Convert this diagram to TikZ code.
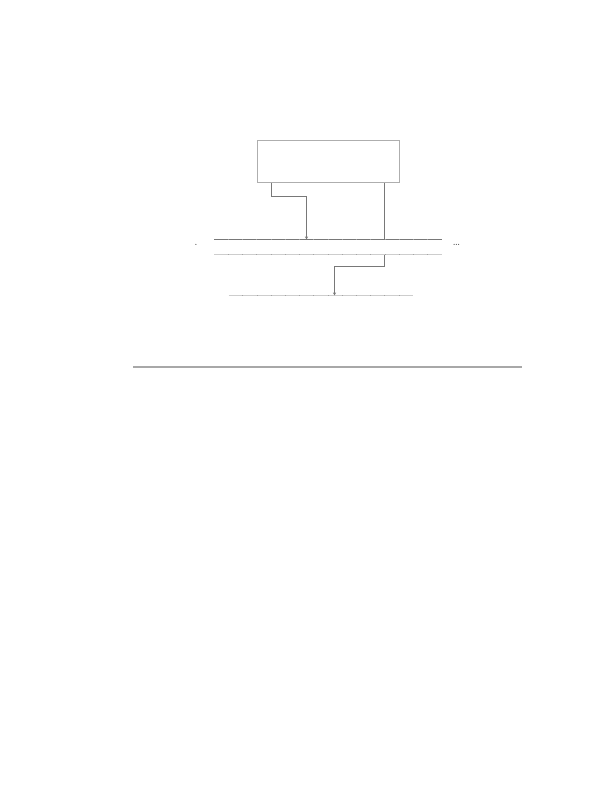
\documentclass[tikz,border=0pt]{standalone}
\usetikzlibrary{arrows.meta,positioning}
\definecolor{ink}{RGB}{120,120,120}
\definecolor{pale}{RGB}{205,205,205}
\definecolor{rule}{RGB}{168,168,168}
\tikzset{
  >={Stealth[length=3pt,width=3pt]},
  frame/.style={draw=pale!85!black,line width=0.9pt,minimum width=142pt,
    minimum height=42pt,inner sep=0pt},
  link/.style={->,draw=ink,line width=0.6pt},
  wire/.style={draw=#1,line width=0.8pt},
  wire/.default=ink,
  tick/.style={draw=#1,line width=0.6pt},
  tick/.default=ink!70,
  dots/.style={font=\large,text=ink!60!black,inner sep=0pt},
}
\begin{document}
\begin{tikzpicture}[x=1pt,y=-1pt]
  \useasboundingbox (0,0) rectangle (612,792);
  % the box
  \node[frame] (box) at (328,161.5) {};
  % the three rows
  \coordinate (rowA w) at (214,239.5);
  \coordinate (rowA e) at (442,239.5);
  \coordinate (rowB w) at (214,254.5);
  \coordinate (rowB e) at (442,254.5);
  \coordinate (rowC w) at (228.5,295.5);
  \coordinate (rowC e) at (413,295.5);
  \draw[wire] (rowA w) -- (rowA e);
  \draw[wire=pale] (rowB w) -- (rowB e);
  \draw[wire=pale] (rowC w) -- (rowC e);
  \foreach \k in {1,...,15}{
    \draw[tick] (214+\k*14.25,239) -- ++(0,1.2);
    \draw[tick=pale!80!black] (214+\k*14.25,254) -- ++(0,1.2);
  }
  \foreach \k in {1,...,12}
    \draw[tick=pale!80!black] (228.5+\k*14.2,295) -- ++(0,1.2);
  \node[dots] (lead) at (196,244.5) {.};
  \node[dots] (trail) at (456.5,244.5) {\dots};
  % connectors
  \coordinate (hitA) at (306.5,239.5);
  \coordinate (tapA) at (384,239.5);
  \coordinate (tapB) at (384,255);
  \coordinate (hitC) at (334.5,295.5);
  \draw[link] ([xshift=-57pt]box.south) |- ([yshift=43.5pt]hitA) -- (hitA);
  \draw[wire,line width=0.6pt] ([xshift=56pt]box.south) -- (tapA);
  \draw[link] (tapB) |- ([yshift=29pt]hitC) -- (hitC);
  % rule
  \coordinate (rule w) at (133,367);
  \coordinate (rule e) at (522,367);
  \draw[rule,line width=1.6pt] (rule w) -- (rule e);
\end{tikzpicture}
\end{document}
